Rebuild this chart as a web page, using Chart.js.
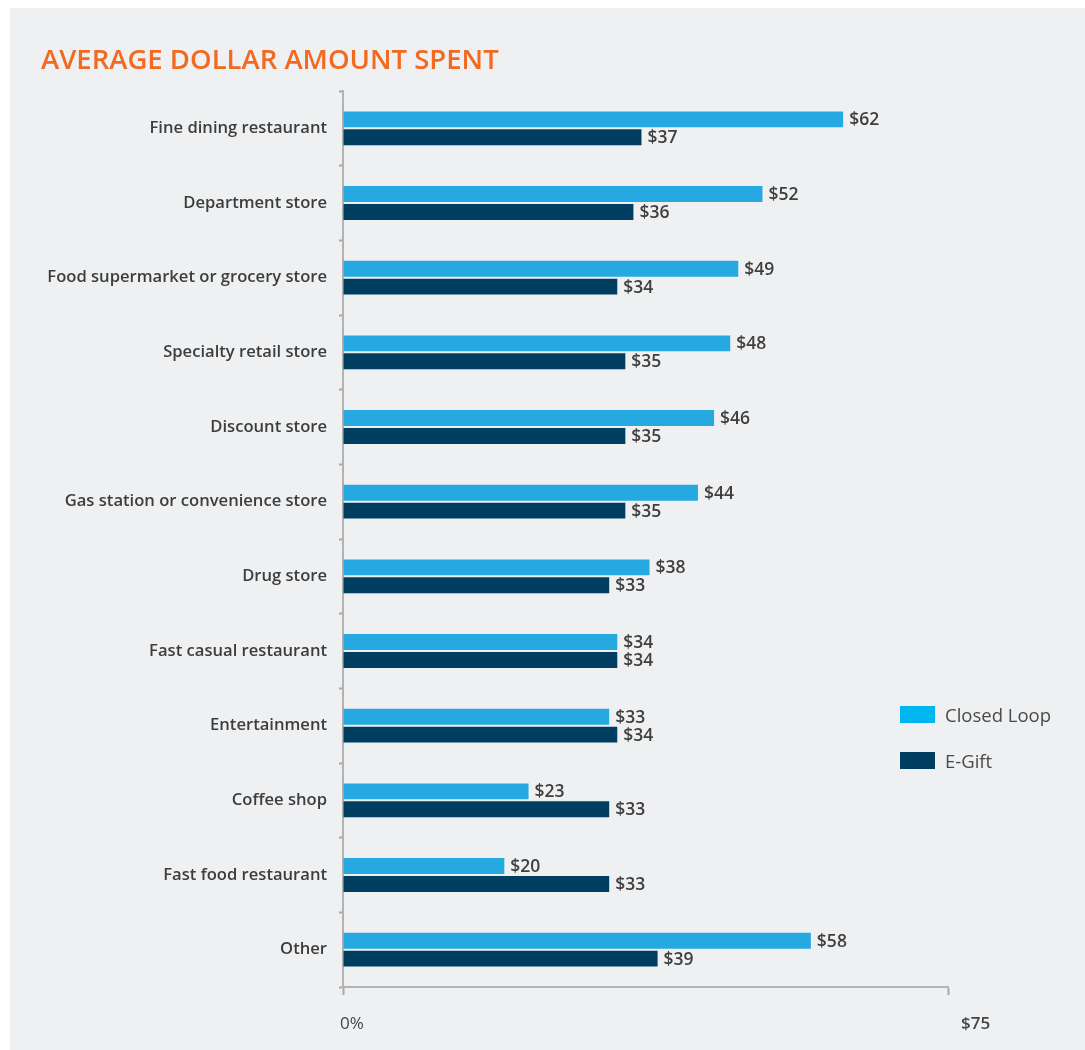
<!DOCTYPE html>
<html>
<head>
<meta charset="utf-8">
<script src="https://cdn.jsdelivr.net/npm/chart.js@4.4.1/dist/chart.umd.min.js"></script>
<style>
  html, body { margin: 0; padding: 0; background: #fff; }
  #panel { position: absolute; left: 10px; top: 8px; width: 1075px; height: 1042px; background: #eff0f2; }
  #title { position: absolute; left: 31px; top: 32px; margin: 0; font: 600 27.5px "Open Sans", sans-serif; color: #f26a21; letter-spacing: 0; }
  #chartBox { position: absolute; left: 0; top: 0; width: 1075px; height: 1042px; }
  #legend { position: absolute; left: 890px; top: 697px; font: 400 18.5px "Open Sans", sans-serif; color: #4a4a4a; }
  #legend .item { display: flex; align-items: center; height: 18px; margin-bottom: 28px; }
  #legend .sw { width: 35px; height: 17px; margin-right: 10px; }
</style>
</head>
<body>
<div id="panel">
  <div id="chartBox"><canvas id="spendChart"></canvas></div>
  <h1 id="title">AVERAGE DOLLAR AMOUNT SPENT</h1>
  <div id="legend"></div>
</div>
<script>
  var categories = ['Fine dining restaurant', 'Department store', 'Food supermarket or grocery store',
    'Specialty retail store', 'Discount store', 'Gas station or convenience store', 'Drug store',
    'Fast casual restaurant', 'Entertainment', 'Coffee shop', 'Fast food restaurant', 'Other'];
  var closedLoop = [62, 52, 49, 48, 46, 44, 38, 34, 33, 23, 20, 58];
  var eGift = [37, 36, 34, 35, 35, 35, 33, 34, 34, 33, 33, 39];
  var seriesNames = ['Closed Loop', 'E-Gift'];
  var xTickValues = [0, 75];
  var xTickLabels = ['0%', '$75'];

  var barColors = ['#25a9e0', '#003e61'];
  var legendColors = ['#00b6f0', '#003e61'];

  /* Legend */
  var legendEl = document.getElementById('legend');
  seriesNames.forEach(function (name, i) {
    var item = document.createElement('div');
    item.className = 'item';
    item.innerHTML = '<span class="sw" style="background:' + legendColors[i] + '"></span>' + name;
    legendEl.appendChild(item);
  });

  /* Chart */
  var ctx = document.getElementById('spendChart').getContext('2d');
  new Chart(ctx, {
    type: 'bar',
    data: {
      labels: categories,
      datasets: [
        { label: seriesNames[0], data: closedLoop, backgroundColor: barColors[0] },
        { label: seriesNames[1], data: eGift, backgroundColor: barColors[1] }
      ]
    },
    options: {
      indexAxis: 'y',
      responsive: true,
      maintainAspectRatio: false,
      animation: false,
      layout: { padding: { top: 83, right: 137, left: 0, bottom: 0 } },
      datasets: { bar: { categoryPercentage: 0.48, barPercentage: 0.89 } },
      scales: {
        x: {
          min: 0,
          max: 75,
          afterFit: function (scale) { scale.height = 63; },
          border: { color: '#b3b3b3', width: 2 },
          grid: { drawOnChartArea: false, tickLength: 8, color: '#a8a8a8', tickWidth: 2 },
          ticks: { stepSize: 75, display: false }
        },
        y: {
          afterFit: function (scale) { scale.width = 333; },
          border: { color: '#b3b3b3', width: 2 },
          grid: { drawOnChartArea: false, offset: true, tickLength: 4, color: '#a8a8a8', tickWidth: 2 },
          ticks: {
            padding: 12,
            color: '#3d3d3d',
            font: { family: 'Open Sans', size: 16.6, weight: '600' }
          }
        }
      },
      plugins: {
        legend: { display: false },
        tooltip: { enabled: false }
      }
    },
    plugins: [{
      id: 'barValues',
      afterDatasetsDraw: function (chart) {
        var c = chart.ctx;
        chart.data.datasets.forEach(function (dataset, i) {
          chart.getDatasetMeta(i).data.forEach(function (el, idx) {
            c.save();
            c.fillStyle = '#3f3f3f';
            c.font = '600 17.5px "Open Sans", sans-serif';
            c.textAlign = 'left';
            c.textBaseline = 'middle';
            c.fillText('$' + dataset.data[idx], el.x + 6, el.y + 1);
            c.restore();
          });
        });
      }
    }, {
      id: 'xLabels',
      afterDraw: function (chart) {
        var c = chart.ctx;
        var sx = chart.scales.x;
        c.save();
        c.fillStyle = '#444';
        c.textBaseline = 'middle';
        xTickValues.forEach(function (v, i) {
          var x = sx.getPixelForValue(v);
          c.textAlign = 'left';
          c.font = (i === 0 ? '400' : '600') + ' 17px "Open Sans", sans-serif';
          c.fillText(xTickLabels[i], x + (i === 0 ? -3 : 13), sx.bottom - 26);
        });
        c.restore();
      }
    }]
  });
</script>
</body>
</html>
